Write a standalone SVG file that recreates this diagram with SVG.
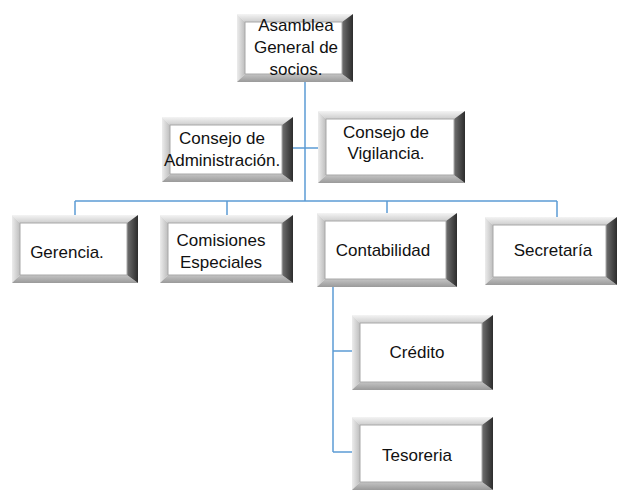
<svg xmlns="http://www.w3.org/2000/svg" width="624" height="492" viewBox="0 0 624 492">
<defs>
<linearGradient id="gTop" x1="0" y1="0" x2="0" y2="1"><stop offset="0" stop-color="#f4f4f4"/><stop offset="1" stop-color="#cdcdcd"/></linearGradient>
<linearGradient id="gLeft" x1="0" y1="0" x2="1" y2="0"><stop offset="0" stop-color="#ececec"/><stop offset="1" stop-color="#bdbdbd"/></linearGradient>
<linearGradient id="gBot" x1="0" y1="0" x2="0" y2="1"><stop offset="0" stop-color="#c4c4c4"/><stop offset="1" stop-color="#9a9a9a"/></linearGradient>
<linearGradient id="gRight" x1="0" y1="0" x2="1" y2="0"><stop offset="0" stop-color="#707070"/><stop offset="1" stop-color="#2c2c2c"/></linearGradient>
<style>
.t{fill:url(#gTop)}
.l{fill:url(#gLeft)}
.b{fill:url(#gBot)}
.r{fill:url(#gRight)}
.in{fill:#ffffff;stroke:#a8a8a8;stroke-width:1}
.conn line{stroke:#5b9bd5;stroke-width:1.5;fill:none}
text{font-family:"Liberation Sans",Arial,sans-serif;font-size:17px;fill:#111;text-anchor:middle}
</style>
</defs>
<rect width="624" height="492" fill="#ffffff"/>
<g id="connectors" class="conn">
<line x1="305" y1="82" x2="305" y2="201"/>
<line x1="293" y1="148" x2="318" y2="148"/>
<line x1="75" y1="201" x2="557" y2="201"/>
<line x1="75" y1="201" x2="75" y2="215"/>
<line x1="227" y1="201" x2="227" y2="215"/>
<line x1="387" y1="201" x2="387" y2="213"/>
<line x1="557" y1="201" x2="557" y2="217"/>
<line x1="333" y1="287" x2="333" y2="452"/>
<line x1="333" y1="351" x2="352" y2="351"/>
<line x1="333" y1="452" x2="352" y2="452"/>
</g>
<g id="n-asamblea">
<polygon class="t" points="237,14 353,14 342,22 245,22"/>
<polygon class="l" points="237,14 245,22 245,74 237,82"/>
<polygon class="b" points="237,82 245,74 342,74 353,82"/>
<polygon class="r" points="353,14 342,22 342,74 353,82"/>
<rect class="in" x="245" y="22" width="97" height="52"/>
<text x="296" y="31">Asamblea</text>
<text x="296" y="53">General de</text>
<text x="296" y="75">socios.</text>
</g>
<g id="n-administracion">
<polygon class="t" points="162,117 293,117 282,125 170,125"/>
<polygon class="l" points="162,117 170,125 170,174 162,182"/>
<polygon class="b" points="162,182 170,174 282,174 293,182"/>
<polygon class="r" points="293,117 282,125 282,174 293,182"/>
<rect class="in" x="170" y="125" width="112" height="49"/>
<text x="222" y="144">Consejo de</text>
<text x="222" y="166">Administración.</text>
</g>
<g id="n-vigilancia">
<polygon class="t" points="318,111 465,111 454,119 326,119"/>
<polygon class="l" points="318,111 326,119 326,175 318,183"/>
<polygon class="b" points="318,183 326,175 454,175 465,183"/>
<polygon class="r" points="465,111 454,119 454,175 465,183"/>
<rect class="in" x="326" y="119" width="128" height="56"/>
<text x="386" y="138">Consejo de</text>
<text x="386" y="159">Vigilancia.</text>
</g>
<g id="n-gerencia">
<polygon class="t" points="12,215 138,215 127,223 20,223"/>
<polygon class="l" points="12,215 20,223 20,275 12,283"/>
<polygon class="b" points="12,283 20,275 127,275 138,283"/>
<polygon class="r" points="138,215 127,223 127,275 138,283"/>
<rect class="in" x="20" y="223" width="107" height="52"/>
<text x="67" y="258">Gerencia.</text>
</g>
<g id="n-comisiones">
<polygon class="t" points="160,215 293,215 282,223 168,223"/>
<polygon class="l" points="160,215 168,223 168,275 160,283"/>
<polygon class="b" points="160,283 168,275 282,275 293,283"/>
<polygon class="r" points="293,215 282,223 282,275 293,283"/>
<rect class="in" x="168" y="223" width="114" height="52"/>
<text x="221" y="246">Comisiones</text>
<text x="221" y="268">Especiales</text>
</g>
<g id="n-contabilidad">
<polygon class="t" points="317,213 457,213 446,221 325,221"/>
<polygon class="l" points="317,213 325,221 325,279 317,287"/>
<polygon class="b" points="317,287 325,279 446,279 457,287"/>
<polygon class="r" points="457,213 446,221 446,279 457,287"/>
<rect class="in" x="325" y="221" width="121" height="58"/>
<text x="383" y="256">Contabilidad</text>
</g>
<g id="n-secretaria">
<polygon class="t" points="485,217 617,217 606,225 493,225"/>
<polygon class="l" points="485,217 493,225 493,277 485,285"/>
<polygon class="b" points="485,285 493,277 606,277 617,285"/>
<polygon class="r" points="617,217 606,225 606,277 617,285"/>
<rect class="in" x="493" y="225" width="113" height="52"/>
<text x="553" y="256">Secretaría</text>
</g>
<g id="n-credito">
<polygon class="t" points="352,315 493,315 482,323 360,323"/>
<polygon class="l" points="352,315 360,323 360,382 352,390"/>
<polygon class="b" points="352,390 360,382 482,382 493,390"/>
<polygon class="r" points="493,315 482,323 482,382 493,390"/>
<rect class="in" x="360" y="323" width="122" height="59"/>
<text x="417" y="358">Crédito</text>
</g>
<g id="n-tesoreria">
<polygon class="t" points="352,417 493,417 482,425 360,425"/>
<polygon class="l" points="352,417 360,425 360,482 352,490"/>
<polygon class="b" points="352,490 360,482 482,482 493,490"/>
<polygon class="r" points="493,417 482,425 482,482 493,490"/>
<rect class="in" x="360" y="425" width="122" height="57"/>
<text x="417" y="461">Tesoreria</text>
</g>
</svg>
